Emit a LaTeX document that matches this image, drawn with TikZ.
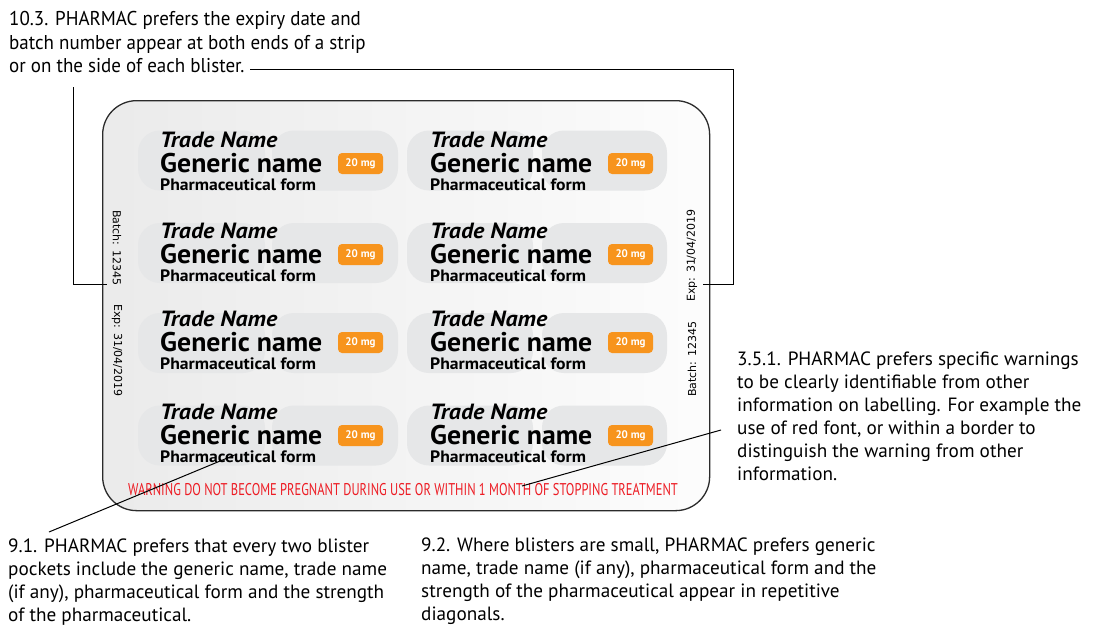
\documentclass[tikz,border=0pt]{standalone}
\usepackage{fontspec}
\setmainfont{PT Sans}
\newfontfamily\condfont[FakeStretch=0.95]{PT Sans}
\newfontfamily\warnfont[FakeStretch=0.735]{PT Sans}
\newfontfamily\tradefont[FakeStretch=1.09]{PT Sans}
\newfontfamily\genfont[FakeStretch=1.03]{PT Sans}
\newfontfamily\formfont[FakeStretch=1.07]{PT Sans}
\newfontfamily\sidefont{DejaVu Sans}
\definecolor{pillc}{HTML}{E6E7E8}
\definecolor{badgec}{HTML}{F7941D}
\definecolor{warnc}{HTML}{ED1C24}
\definecolor{edgec}{HTML}{2B2B2B}
\tikzset{
  note/.style={anchor=north west, inner sep=0pt, align=left, font=\fontsize{19.2}{23}\selectfont, text=black},
  pillbox/.style={fill=pillc, draw=none, rounded corners=22pt},
  tradetxt/.style={anchor=base west, inner sep=0pt, font=\tradefont\bfseries\itshape\fontsize{22}{22}\selectfont},
  generictxt/.style={anchor=base west, inner sep=0pt, font=\genfont\bfseries\fontsize{27}{27}\selectfont},
  formtxt/.style={anchor=base west, inner sep=0pt, font=\formfont\bfseries\fontsize{16.5}{16.5}\selectfont},
  badge/.style={fill=badgec, rounded corners=4pt, text=white, inner sep=0pt, minimum width=45pt, minimum height=21pt, font=\bfseries\fontsize{11}{11}\selectfont},
  sidetxt/.style={inner sep=0pt, font=\sidefont\fontsize{11}{11}\selectfont},
  leader/.style={draw=black, line width=1pt},
}
\begin{document}
\begin{tikzpicture}[x=1pt,y=-1pt]
\useasboundingbox (0,0) rectangle (1093,629);
\fill[white] (0,0) rectangle (1093,629);
% blister
\node[draw=edgec, line width=1.3pt, rounded corners=34pt, left color=black!8, right color=black!1, minimum width=607pt, minimum height=410pt, inner sep=0pt, anchor=north west] (blister) at (102,100) {};
% pills
\foreach \r/\yc in {1/160.5, 2/253, 3/343, 4/435.5}{
  \foreach \c/\xa/\xb in {1/138/265, 2/272/398, 3/407/533, 4/542/667}{
    \path[pillbox] (\xa,\yc-30) rectangle (\xb,\yc+30);
  }
}
% labels
\foreach \r/\yb in {1/147, 2/238, 3/326, 4/419}{
  \foreach \c/\xo in {1/160, 2/430}{
    \node[tradetxt] (trade\r\c) at (\xo,\yb) {Trade Name};
    \node[generictxt] (gen\r\c) at (\xo,\yb+25) {Generic name};
    \node[formtxt] (form\r\c) at (\xo,\yb+43) {Pharmaceutical form};
    \node[badge] (dose\r\c) at (\xo+200.5,\yb+16.5) {20 mg};
  }
}
% side texts
\node[sidetxt, rotate=-90, anchor=west] (batchL) at (117,210) {Batch: 12345};
\node[sidetxt, rotate=-90, anchor=west] (expL) at (117,304) {Exp: 31/04/2019};
\node[sidetxt, rotate=90, anchor=west] (expR) at (692,302) {Exp: 31/04/2019};
\node[sidetxt, rotate=90, anchor=west] (batchR) at (692,397) {Batch: 12345};
% warning
\node[inner sep=0pt, anchor=base, text=warnc, font=\warnfont\fontsize{17}{17}\selectfont] (warning) at (403,495) {WARNING DO NOT BECOME PREGNANT DURING USE OR WITHIN 1 MONTH OF STOPPING TREATMENT};
% notes
\node[note, font=\condfont\fontsize{20}{23.5}\selectfont] (n103) at (9,11.5) {10.3. PHARMAC prefers the expiry date and\\batch number appear at both ends of a strip\\or on the side of each blister.};
\node[note] (n351) at (737,352) {3.5.1. PHARMAC prefers specific warnings\\to be clearly identifiable from other\\information on labelling. For example the\\use of red font, or within a border to\\distinguish the warning from other\\information.};
\node[note] (n91) at (8,539) {9.1. PHARMAC prefers that every two blister\\pockets include the generic name, trade name\\(if any), pharmaceutical form and the strength\\of the pharmaceutical.};
\node[note] (n92) at (421,538) {9.2. Where blisters are small, PHARMAC prefers generic\\name, trade name (if any), pharmaceutical form and the\\strength of the pharmaceutical appear in repetitive\\diagonals.};
% leaders
\coordinate (topstart) at (250,69);
\coordinate (rtick) at (703,284);
\coordinate (ltop) at (73,87);
\coordinate (ltick) at (107,284);
\coordinate (a91) at (49,532);
\coordinate (b91) at (237,454);
\coordinate (a351) at (721,430);
\coordinate (b351) at (522,486);
\draw[leader] (topstart) -- (733,69) -- (733,284) -- (rtick);
\draw[leader] (ltop) -- (73,284) -- (ltick);
\draw[leader] (a91) -- (b91);
\draw[leader] (a351) -- (b351);
\end{tikzpicture}
\end{document}
